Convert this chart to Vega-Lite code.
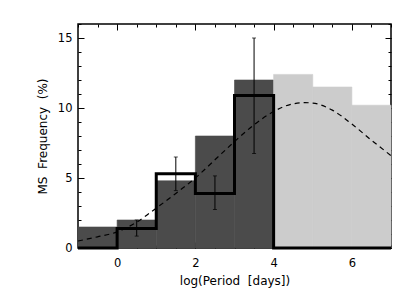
{
  "$schema": "https://vega.github.io/schema/vega-lite/v6.json",
  "width": 313,
  "height": 224,
  "autosize": {"type": "none"},
  "padding": {"left": 78, "top": 24, "right": 24, "bottom": 49},
  "background": "white",
  "config": {
    "view": {"stroke": "black", "strokeWidth": 1.5},
    "axis": {
      "domain": false, "grid": false,
      "labelFont": "DejaVu Sans", "titleFont": "DejaVu Sans",
      "labelColor": "black", "titleColor": "black", "tickColor": "black",
      "labelFontSize": 11.5, "titleFontSize": 12, "titleFontWeight": "normal",
      "tickWidth": 1
    }
  },
  "datasets": {
    "dark": [
      {"lo": -1, "hi": 0, "f": 1.5},
      {"lo": 0, "hi": 1, "f": 2.0},
      {"lo": 1, "hi": 2, "f": 4.8},
      {"lo": 2, "hi": 3, "f": 8.0},
      {"lo": 3, "hi": 4, "f": 12.0}
    ],
    "light": [
      {"lo": 4, "hi": 5, "f": 12.4},
      {"lo": 5, "hi": 6, "f": 11.5},
      {"lo": 6, "hi": 7, "f": 10.2}
    ],
    "step": [
      {"x": -1, "f": 0},
      {"x": 0, "f": 1.4},
      {"x": 1, "f": 5.3},
      {"x": 2, "f": 3.9},
      {"x": 3, "f": 10.9},
      {"x": 4, "f": 0},
      {"x": 5, "f": 0},
      {"x": 6, "f": 0},
      {"x": 7, "f": 0}
    ],
    "err": [
      {"x": 0.5, "lo": 0.85, "hi": 2.0},
      {"x": 1.5, "lo": 4.1, "hi": 6.5},
      {"x": 2.5, "lo": 2.75, "hi": 5.15},
      {"x": 3.5, "lo": 6.75, "hi": 15.0}
    ],
    "caps": [
      {"x": 0.5, "y": 0.85}, {"x": 0.5, "y": 2.0},
      {"x": 1.5, "y": 4.1}, {"x": 1.5, "y": 6.5},
      {"x": 2.5, "y": 2.75}, {"x": 2.5, "y": 5.15},
      {"x": 3.5, "y": 6.75}, {"x": 3.5, "y": 15.0}
    ],
    "curve": [
      {"x": -1, "y": 0.5},
      {"x": -0.5, "y": 0.8},
      {"x": 0, "y": 1.15},
      {"x": 0.5, "y": 1.85},
      {"x": 1, "y": 2.85},
      {"x": 1.5, "y": 3.9},
      {"x": 2, "y": 5.0},
      {"x": 2.5, "y": 6.3},
      {"x": 3, "y": 7.6},
      {"x": 3.5, "y": 8.8},
      {"x": 4, "y": 9.75},
      {"x": 4.5, "y": 10.3},
      {"x": 4.8, "y": 10.38},
      {"x": 5, "y": 10.35},
      {"x": 5.5, "y": 9.85},
      {"x": 6, "y": 8.85},
      {"x": 6.5, "y": 7.7},
      {"x": 7, "y": 6.6}
    ]
  },
  "layer": [
    {
      "data": {"name": "dark"},
      "mark": {"type": "rect", "color": "#4b4b4b", "stroke": "#4b4b4b", "strokeWidth": 0.6},
      "encoding": {
        "x": {"field": "lo", "type": "quantitative", "scale": {"domain": [-1, 7], "nice": false, "zero": false},
          "axis": {"orient": "bottom", "values": [0, 2, 4, 6], "tickSize": -6, "labelPadding": 15, "format": "d", "title": "log(Period\u00a0 [days])", "titlePadding": 7}},
        "x2": {"field": "hi"},
        "y": {"field": "f", "type": "quantitative", "scale": {"domain": [0, 16], "nice": false},
          "axis": {"orient": "left", "values": [0, 5, 10, 15], "tickSize": -6, "labelPadding": 12, "title": "MS\u00a0 Frequency\u00a0 (%)", "titlePadding": 8}},
        "y2": {"datum": 0}
      }
    },
    {
      "data": {"name": "light"},
      "mark": {"type": "rect", "color": "#cccccc", "stroke": "#cccccc", "strokeWidth": 0.6},
      "encoding": {
        "x": {"field": "lo", "type": "quantitative", "scale": {"domain": [-1, 7], "nice": false, "zero": false},
          "axis": {"orient": "bottom", "values": [-1, -0.5, 0, 0.5, 1, 1.5, 2, 2.5, 3, 3.5, 4, 4.5, 5, 5.5, 6, 6.5, 7], "tickSize": -3, "labels": false, "title": null}},
        "x2": {"field": "hi"},
        "y": {"field": "f", "type": "quantitative", "scale": {"domain": [0, 16], "nice": false},
          "axis": {"orient": "left", "values": [0, 1, 2, 3, 4, 5, 6, 7, 8, 9, 10, 11, 12, 13, 14, 15, 16], "tickSize": -3, "labels": false, "title": null}},
        "y2": {"datum": 0}
      }
    },
    {
      "data": {"name": "curve"},
      "mark": {"type": "line", "color": "black", "strokeWidth": 1.2, "strokeDash": [5, 4], "interpolate": "monotone"},
      "encoding": {
        "x": {"field": "x", "type": "quantitative", "scale": {"domain": [-1, 7], "nice": false, "zero": false}, "axis": null},
        "y": {"field": "y", "type": "quantitative", "scale": {"domain": [0, 16], "nice": false}, "axis": null}
      }
    },
    {
      "data": {"name": "step"},
      "mark": {"type": "line", "color": "black", "strokeWidth": 3, "interpolate": "step-after"},
      "encoding": {
        "x": {"field": "x", "type": "quantitative", "scale": {"domain": [-1, 7], "nice": false, "zero": false},
          "axis": {"orient": "top", "values": [0, 2, 4, 6], "tickSize": -6, "labels": false, "title": null}},
        "y": {"field": "f", "type": "quantitative", "scale": {"domain": [0, 16], "nice": false},
          "axis": {"orient": "right", "values": [0, 5, 10, 15], "tickSize": -6, "labels": false, "title": null}}
      }
    },
    {
      "data": {"name": "err"},
      "mark": {"type": "rule", "color": "black", "strokeWidth": 1},
      "encoding": {
        "x": {"field": "x", "type": "quantitative", "scale": {"domain": [-1, 7], "nice": false, "zero": false},
          "axis": {"orient": "top", "values": [-1, -0.5, 0, 0.5, 1, 1.5, 2, 2.5, 3, 3.5, 4, 4.5, 5, 5.5, 6, 6.5, 7], "tickSize": -3, "labels": false, "title": null}},
        "y": {"field": "lo", "type": "quantitative", "scale": {"domain": [0, 16], "nice": false},
          "axis": {"orient": "right", "values": [0, 1, 2, 3, 4, 5, 6, 7, 8, 9, 10, 11, 12, 13, 14, 15, 16], "tickSize": -3, "labels": false, "title": null}},
        "y2": {"field": "hi"}
      }
    },
    {
      "data": {"name": "caps"},
      "mark": {"type": "tick", "color": "black", "orient": "horizontal", "size": 4, "thickness": 1},
      "encoding": {
        "x": {"field": "x", "type": "quantitative", "scale": {"domain": [-1, 7], "nice": false, "zero": false}, "axis": null},
        "y": {"field": "y", "type": "quantitative", "scale": {"domain": [0, 16], "nice": false}, "axis": null}
      }
    }
  ],
  "resolve": {"axis": {"x": "independent", "y": "independent"}}
}
